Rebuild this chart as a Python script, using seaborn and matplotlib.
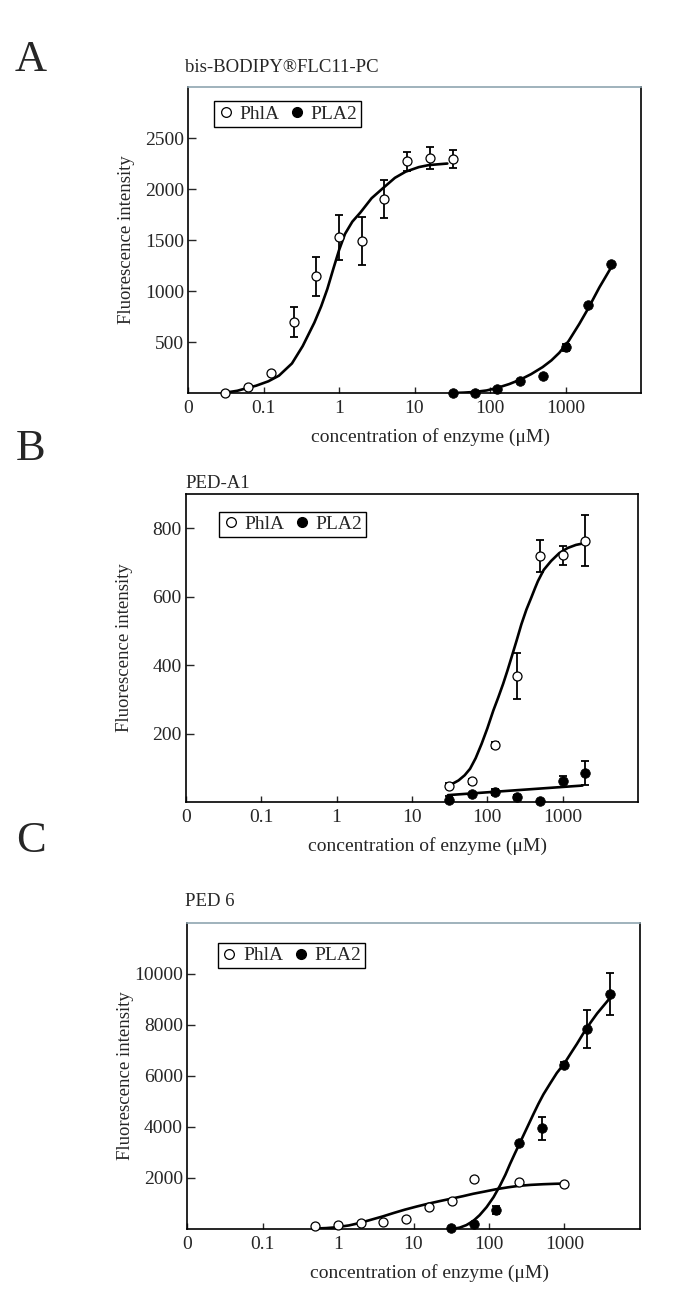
import numpy as np
import pandas as pd
import matplotlib
matplotlib.use("Agg")
import matplotlib.pyplot as plt
import seaborn as sns
from matplotlib.lines import Line2D

# =====================================================
# DATA
# =====================================================

# --- A: bis-BODIPY FLC11-PC ---
a_phla_conc = [0.031, 0.0625, 0.125, 0.25, 0.5, 1, 2, 4, 8, 16, 32]
a_phla_val = [4, 59, 199, 694, 1145, 1525, 1493, 1900, 2270, 2307, 2295]
a_phla_err = [0, 0, 0, 147, 190, 221, 236, 187, 93, 107, 90]

a_pla2_conc = [32, 64, 125, 250, 500, 1000, 2000, 4000]
a_pla2_val = [4, 4, 36, 114, 166, 450, 867, 1261]
a_pla2_err = [0, 0, 0, 0, 0, 35, 0, 0]

a_phla_fit_x = [0.029, 0.045, 0.058, 0.08, 0.116, 0.16, 0.238, 0.33, 0.471, 0.58,
                0.70, 0.85, 1.0, 1.2, 1.5, 1.92, 2.7, 3.84, 5.5, 7.62, 11.4, 15.5, 27.2]
a_phla_fit_y = [0, 22, 45, 72, 115, 170, 290, 460, 690, 850,
                1020, 1230, 1400, 1560, 1680, 1770, 1910, 2010, 2110, 2170, 2215, 2235, 2250]

a_pla2_fit_x = [31, 45, 61.5, 90, 123, 180, 251, 350, 497, 650, 828, 1100, 1524, 2000, 2810, 3400, 4096]
a_pla2_fit_y = [0, 4, 10, 25, 49, 88, 131, 185, 254, 320, 395, 510, 678, 830, 1036, 1140, 1242]

# --- B: PED-A1 ---
b_phla_conc = [31.25, 62.5, 125, 250, 500, 1000, 2000]
b_phla_val = [48, 60, 167, 367, 718, 721, 763]
b_phla_err = [8, 8, 8, 67, 46, 28, 75]

b_pla2_conc = [31.25, 62.5, 125, 250, 500, 1000, 2000]
b_pla2_val = [5, 24, 29, 15, 3, 60, 84]
b_pla2_err = [12, 0, 8, 5, 0, 16, 35]

b_phla_fit_x = [30.1, 35, 41.5, 50, 59, 70, 84, 100, 120, 140, 162, 185, 209, 245,
                283, 330, 383, 430, 469, 560, 702, 900, 1164, 1500, 1833]
b_phla_fit_y = [49, 54, 63, 78, 97, 128, 170, 215, 267, 306, 345, 384, 422, 472,
                519, 562, 597, 625, 645, 678, 704, 727, 742, 751, 755]

b_pla2_fit_x = [30, 200, 1833]
b_pla2_fit_y = [20, 33, 48]

# --- C: PED 6 ---
c_phla_conc = [0.5, 1, 2, 4, 8, 16, 32, 64, 250, 1000]
c_phla_val = [98, 164, 227, 254, 399, 853, 1114, 1955, 1861, 1770]

c_pla2_conc = [31.25, 62.5, 125, 250, 500, 1000, 2000, 4000]
c_pla2_val = [47, 211, 729, 3354, 3941, 6437, 7855, 9211]
c_pla2_err = [0, 0, 160, 0, 436, 120, 742, 832]

c_phla_fit_x = [0.476, 0.7, 0.946, 1.4, 1.93, 2.8, 3.94, 5.5, 7.64, 11, 15.6, 22,
                31.2, 45, 61.7, 90, 125, 180, 251, 360, 521, 750, 1000]
c_phla_fit_y = [15, 35, 66, 140, 234, 370, 495, 630, 756, 880, 990, 1090,
                1185, 1285, 1380, 1475, 1560, 1635, 1693, 1730, 1755, 1772, 1782]

c_pla2_fit_x = [31.2, 36, 41.1, 50, 61.7, 75, 93, 115, 140, 165, 190, 220, 258, 320,
                387, 450, 526, 650, 792, 1000, 1250, 1462, 1800, 2195, 2700, 3300, 4140]
c_pla2_fit_y = [0, 20, 55, 150, 312, 540, 858, 1250, 1703, 2130, 2550, 2960, 3392, 3980,
                4500, 4900, 5280, 5720, 6120, 6500, 6950, 7260, 7700, 8080, 8450, 8760, 9110]

x_ticks = [0.01, 0.1, 1, 10, 100, 1000]
x_ticklabels = ["0", "0.1", "1", "10", "100", "1000"]

# =====================================================
# STYLE
# =====================================================

sns.set_style("ticks")
plt.rcParams["font.family"] = ["Liberation Serif", "DejaVu Serif"]
plt.rcParams["axes.linewidth"] = 1.2

fig = plt.figure(figsize=(6.85, 13.07), dpi=100)

panels = [
    dict(letter="A", title="bis-BODIPY\u00aeFLC11-PC",
         pos=[0.2745, 0.6993, 0.6613, 0.2341], ylim=3000,
         yticks=[500, 1000, 1500, 2000, 2500], top_col="#8fa5b0",
         leg=(0.057, 0.954), letter_y=60, title_y=68,
         phla=(a_phla_conc, a_phla_val, a_phla_err),
         pla2=(a_pla2_conc, a_pla2_val, a_pla2_err),
         fits=[(a_phla_fit_x, a_phla_fit_y), (a_pla2_fit_x, a_pla2_fit_y)]),
    dict(letter="B", title="PED-A1",
         pos=[0.2715, 0.3864, 0.6599, 0.2357], ylim=900,
         yticks=[200, 400, 600, 800], top_col="black",
         leg=(0.073, 0.942), letter_y=449, title_y=483,
         phla=(b_phla_conc, b_phla_val, b_phla_err),
         pla2=(b_pla2_conc, b_pla2_val, b_pla2_err),
         fits=[(b_phla_fit_x, b_phla_fit_y), (b_pla2_fit_x, b_pla2_fit_y)]),
    dict(letter="C", title="PED 6",
         pos=[0.2730, 0.0597, 0.6613, 0.2341], ylim=12000,
         yticks=[2000, 4000, 6000, 8000, 10000], top_col="#8fa5b0",
         leg=(0.068, 0.935), letter_y=841, title_y=902,
         phla=(c_phla_conc, c_phla_val, [0] * len(c_phla_conc)),
         pla2=(c_pla2_conc, c_pla2_val, c_pla2_err),
         fits=[(c_phla_fit_x, c_phla_fit_y), (c_pla2_fit_x, c_pla2_fit_y)]),
]

H = 1307.0
W = 685.0

for p in panels:
    ax = fig.add_axes(p["pos"])

    # fitted curves
    for fx, fy in p["fits"]:
        fit_df = pd.DataFrame({"x": fx, "y": fy})
        sns.lineplot(data=fit_df, x="x", y="y", ax=ax, color="black",
                     lw=1.9, sort=False, estimator=None, zorder=2)

    # error bars
    for conc, val, err in [p["phla"], p["pla2"]]:
        err = np.array(err, dtype=float)
        m = err > 0
        ax.errorbar(np.array(conc)[m], np.array(val)[m], yerr=err[m],
                    fmt="none", ecolor="black", elinewidth=1.3,
                    capsize=3, capthick=1.3, zorder=3)

    # points
    phla_df = pd.DataFrame({"x": p["phla"][0], "y": p["phla"][1]})
    pla2_df = pd.DataFrame({"x": p["pla2"][0], "y": p["pla2"][1]})
    sns.scatterplot(data=phla_df, x="x", y="y", ax=ax, s=42,
                    facecolor="white", edgecolor="black", linewidth=0.9,
                    zorder=4, clip_on=False)
    sns.scatterplot(data=pla2_df, x="x", y="y", ax=ax, s=48,
                    color="black", edgecolor="black", linewidth=0.5,
                    zorder=4, clip_on=False)

    ax.set_xscale("log")
    ax.set_xlim(0.01, 10000)
    ax.set_ylim(0, p["ylim"])
    ax.set_xticks(x_ticks)
    ax.set_xticklabels(x_ticklabels)
    ax.xaxis.set_minor_locator(matplotlib.ticker.NullLocator())
    ax.set_yticks(p["yticks"])
    ax.tick_params(axis="both", direction="in", labelsize=14, pad=3)
    ax.tick_params(axis="y", length=6, width=1)
    ax.tick_params(axis="x", length=4, width=1, pad=5)
    for s in ax.spines.values():
        s.set_visible(True)
        s.set_color("black")
        s.set_linewidth(1.2)
    ax.spines["top"].set_color(p["top_col"])

    ax.set_xlabel("concentration of enzyme (\u03bcM)", fontsize=14, labelpad=2)
    ax.xaxis.set_label_coords(0.535, -0.115)
    ax.set_ylabel("Fluorescence intensity", fontsize=13.5)
    ax.yaxis.set_label_coords(-0.118, 0.5)

    handles = [
        Line2D([], [], ls="", marker="o", ms=7, mfc="white", mec="black", mew=0.9),
        Line2D([], [], ls="", marker="o", ms=7, mfc="black", mec="black"),
    ]
    leg = ax.legend(handles, ["PhlA", "PLA2"], ncol=2, loc="upper left",
                    bbox_to_anchor=p["leg"], fontsize=14, frameon=True,
                    fancybox=False, edgecolor="black", framealpha=1,
                    handlelength=0.8, handletextpad=0.3, columnspacing=0.5,
                    borderpad=0.2, borderaxespad=0)
    leg.get_frame().set_linewidth(1.0)

    fig.text(31 / W, 1 - p["letter_y"] / H, p["letter"], fontsize=32,
             ha="center", va="center")
    fig.text(185 / W, 1 - p["title_y"] / H, p["title"], fontsize=13.5,
             ha="left", va="center")

fig.savefig("out.png", dpi=100)
